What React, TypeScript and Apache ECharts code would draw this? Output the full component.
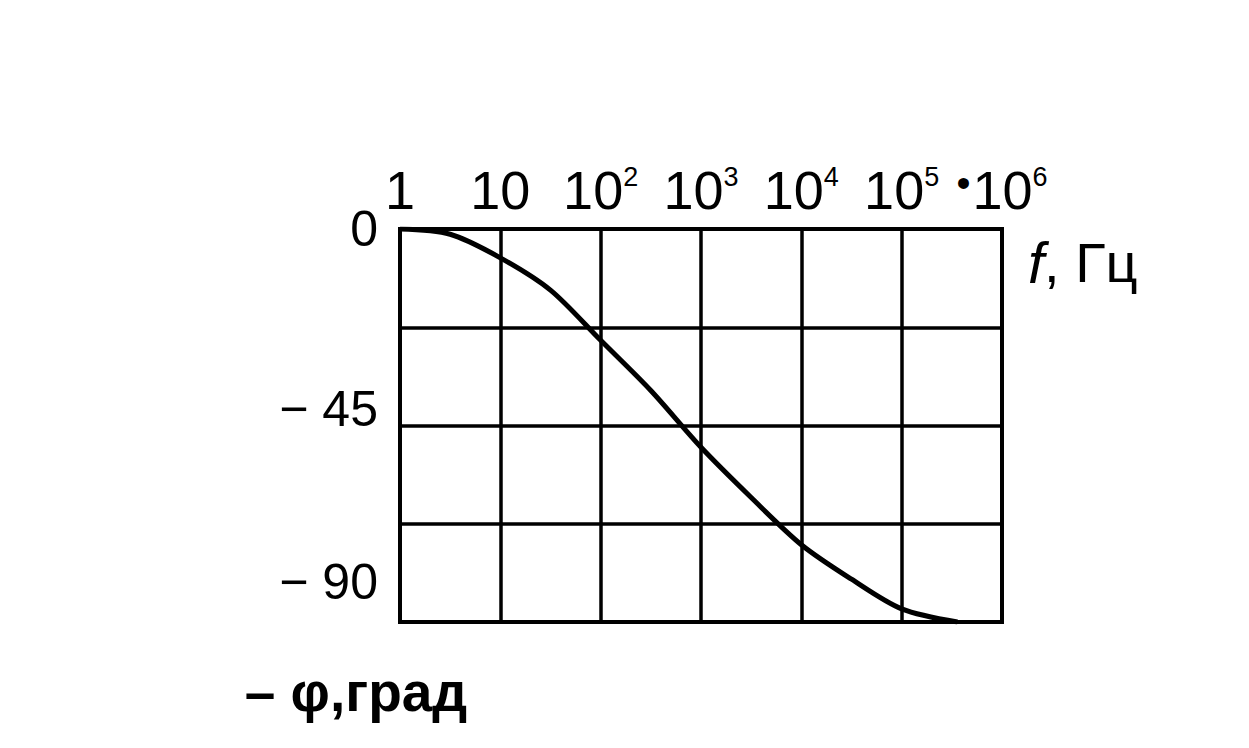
import React, { useEffect, useRef } from "react";
import * as echarts from "echarts";

// Frequency (Hz) and phase (degrees), at half-decade steps
const freqHz = [1, 3.16, 10, 31.6, 100, 316, 1000, 3162, 10000, 31623, 100000, 360000];
const phaseDeg = [0, -1.2, -6.6, -14, -25.5, -37, -50, -61.5, -72.3, -80.2, -87, -90];

// Tick labels (base text + superscript exponent)
const xTickValues = [1, 10, 100, 1000, 10000, 100000, 1000000];
const xTickBases = ["1", "10", "10", "10", "10", "10", "10"];
const xTickExps = ["", "", "2", "3", "4", "5", "6"];
const yTickValues = [0, -45, -90];
const yTickLabels = ["0", "− 45", "− 90"];

const xAxisUnit = "Гц";
const yAxisName = "– φ,град";

export default function App() {
  const ref = useRef<HTMLDivElement>(null);
  useEffect(() => {
    if (!ref.current) return;
    const chart = echarts.init(ref.current, undefined, { renderer: "svg" });
    const sans = "'Liberation Sans', Arial, sans-serif";
    chart.setOption({
      animation: false,
      backgroundColor: "#ffffff",
      grid: {
        left: 400,
        top: 229,
        width: 602,
        height: 393,
        show: true,
        borderColor: "#000",
        borderWidth: 4,
        backgroundColor: "transparent",
      },
      xAxis: {
        type: "log",
        logBase: 10,
        min: 1,
        max: 1000000,
        interval: 1,
        position: "top",
        name: `{i|f}{n|, ${xAxisUnit}}`,
        nameLocation: "end",
        nameGap: 26,
        nameTextStyle: {
          fontFamily: sans,
          fontSize: 56,
          color: "#000",
          padding: [66, 0, 0, 0],
          rich: {
            i: { fontFamily: sans, fontSize: 58, fontStyle: "italic", color: "#000" },
            n: { fontFamily: sans, fontSize: 56, color: "#000" },
          },
        },
        axisLine: { show: true, lineStyle: { color: "#000", width: 4 } },
        axisTick: { show: false },
        splitLine: { show: true, lineStyle: { color: "#000", width: 3.5 } },
        axisLabel: {
          show: true,
          margin: 12,
          hideOverlap: false,
          showMinLabel: true,
          showMaxLabel: true,
          fontFamily: sans,
          fontSize: 54,
          color: "#000",
          formatter: (v: number) => {
            const i = xTickValues.findIndex((t) => Math.abs(Math.log10(t) - Math.log10(v)) < 1e-6);
            if (i < 0) return "";
            const dot = i === xTickValues.length - 1 ? "{d|•}" : "";
            const sup = xTickExps[i] ? `{s|${xTickExps[i]}}` : "";
            return `${dot}{m|${xTickBases[i]}}${sup}`;
          },
          rich: {
            m: { fontFamily: sans, fontSize: 54, color: "#000", verticalAlign: "bottom" },
            s: { fontFamily: sans, fontSize: 27, color: "#000", verticalAlign: "top" },
            d: { fontFamily: sans, fontSize: 40, color: "#000", verticalAlign: "top", padding: [0, 2, 0, 0] },
          },
        },
      },
      yAxis: {
        type: "value",
        min: -90,
        max: 0,
        interval: 22.5,
        name: yAxisName,
        nameLocation: "start",
        nameGap: 42,
        nameTextStyle: {
          fontFamily: sans,
          fontSize: 55,
          fontWeight: "bold",
          color: "#000",
          align: "center",
          padding: [0, 88, 0, 0],
        },
        axisLine: { show: true, lineStyle: { color: "#000", width: 4 } },
        axisTick: { show: false },
        splitLine: { show: true, lineStyle: { color: "#000", width: 3.5 } },
        axisLabel: {
          show: true,
          margin: 22,
          color: "#000",
          fontFamily: sans,
          fontSize: 50,
          formatter: (v: number) => {
            const i = yTickValues.indexOf(v);
            if (i < 0) return "";
            const key = i === 0 ? "a" : i === 1 ? "b" : "c";
            return `{${key}|${yTickLabels[i]}}`;
          },
          rich: {
            a: { fontFamily: sans, fontSize: 50, color: "#000", padding: [0, 0, 0, 0] },
            b: { fontFamily: sans, fontSize: 50, color: "#000", padding: [0, 0, 34, 0] },
            c: { fontFamily: sans, fontSize: 50, color: "#000", padding: [0, 0, 80, 0] },
          },
        },
      },
      series: [
        {
          type: "line",
          data: freqHz.map((f, i) => [f, phaseDeg[i]]),
          smooth: 0.3,
          symbol: "none",
          lineStyle: { color: "#000", width: 5 },
          z: 5,
        },
      ],
    });
    return () => chart.dispose();
  }, []);
  return (
    <div
      ref={ref}
      style={{ position: "fixed", left: 0, top: 0, width: 1249, height: 748, background: "#fff" }}
    />
  );
}
